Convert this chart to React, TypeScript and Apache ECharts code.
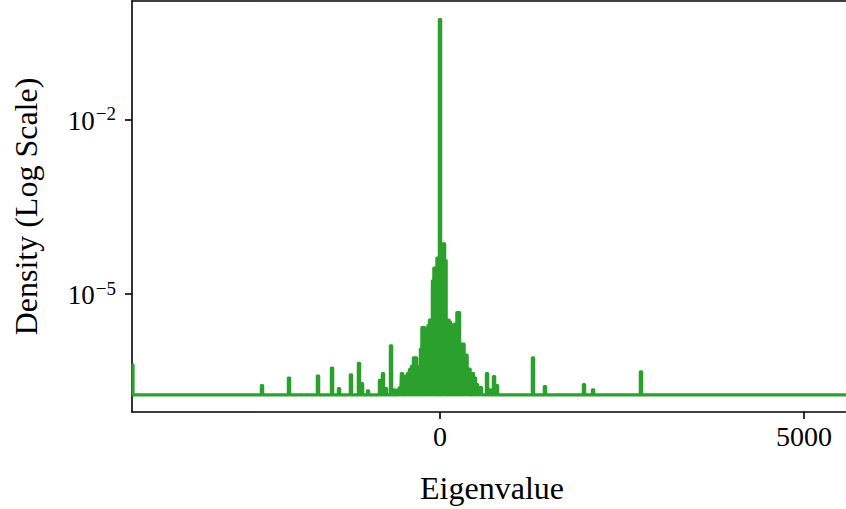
import React, { useEffect, useRef } from "react";
import * as echarts from "echarts";

// x range of the visible plot
const xMin = -4231;
const xMax = 5577;
// y range (log scale), in densities
const yMin = Math.pow(10, -7.04);
const yMax = Math.pow(10, 0.04);

const xTickValues = [0, 5000];
const yTickValues = [1e-5, 1e-2];

// baseline density of the curve
const baseline = 1.8e-7;
const xStart = -4217;
const startValue = 5.9e-7;
const xEnd = 6000;

// spike positions (eigenvalue) and densities
const spikeX = [
  -2445, -2074, -1676, -1483, -1387, -1223, -1113, -1071, -989, -824, -783, -742, -673, -632, -577,
  -549, -522, -494, -467, -440, -412, -385, -357, -330, -302, -282, -261, -240, -220, -199, -179,
  -158, -137, -117, -96, -76, -55, -34, 0, 34, 55, 76, 96, 117, 137, 158, 179, 199, 220, 240, 261,
  282, 302, 323, 343, 364, 385, 405, 426, 453, 481, 508, 536, 563, 646, 687, 742, 783, 1277, 1442,
  1978, 2102, 2761,
];
const spikeY = [
  2.6e-7, 3.5e-7, 3.8e-7, 5.2e-7, 2.3e-7, 4.0e-7, 6.3e-7, 2.8e-7, 2.1e-7, 3.2e-7, 4.2e-7, 2.3e-7,
  1.26e-6, 2.2e-7, 2.2e-7,
  2.4e-7, 4.2e-7, 2.8e-7, 3.8e-7, 4.2e-7, 4.9e-7, 5.6e-7, 7.8e-7, 7.8e-7, 4.9e-7, 5.6e-7, 1.1e-6,
  2.6e-6, 2.6e-6, 2.1e-6, 2.1e-6, 2.8e-6, 3.5e-6, 3.5e-6, 1.66e-5, 2.75e-5, 2.75e-5, 4.1e-5, 0.525,
  7.2e-5, 7.2e-5, 3.7e-5, 3.5e-6, 3.5e-6, 3.2e-6, 2.6e-6, 2.6e-6, 2.95e-6, 2.95e-6, 4.7e-6, 4.7e-6,
  8.7e-7, 1.35e-6, 1.35e-6, 8.7e-7, 8.7e-7, 5.0e-7, 5.0e-7, 4.2e-7, 4.2e-7, 3.5e-7, 2.7e-7, 2.4e-7,
  2.4e-7, 4.2e-7, 2.2e-7, 3.7e-7, 2.6e-7, 7.8e-7, 2.5e-7, 2.7e-7, 2.2e-7, 4.5e-7,
];

const SPIKE_HALF = 9;
const FONT = "Liberation Serif";
const GREEN = "#2ca02c";

function buildLine(): number[][] {
  const pts: number[][] = [];
  pts.push([xStart, startValue]);
  pts.push([xStart, baseline]);
  for (let i = 0; i < spikeX.length; i++) {
    const x = spikeX[i];
    const v = spikeY[i];
    pts.push([x - SPIKE_HALF, baseline]);
    pts.push([x - SPIKE_HALF, v]);
    pts.push([x + SPIKE_HALF, v]);
    pts.push([x + SPIKE_HALF, baseline]);
  }
  pts.push([xEnd, baseline]);
  return pts;
}

export default function App() {
  const ref = useRef<HTMLDivElement>(null);
  useEffect(() => {
    if (!ref.current) return;
    const chart = echarts.init(ref.current, null, { renderer: "svg" });
    const axisLine = { show: true, lineStyle: { color: "#000", width: 1.6 } };
    chart.setOption({
      animation: false,
      backgroundColor: "#fff",
      grid: { left: 132, right: 0, top: 1, bottom: 93.5 },
      xAxis: [
        {
          type: "value",
          min: xMin,
          max: xMax,
          position: "bottom",
          axisLine: { ...axisLine, onZero: false },
          splitLine: { show: false },
          axisTick: {
            show: true,
            length: 7,
            inside: false,
            customValues: xTickValues,
            lineStyle: { color: "#000", width: 1.6 },
          },
          axisLabel: {
            show: true,
            customValues: xTickValues,
            margin: 10,
            fontFamily: FONT,
            fontSize: 28,
            color: "#000",
            formatter: (v: number) => String(v),
          },
          name: "Eigenvalue",
          nameLocation: "middle",
          nameGap: 60,
          nameTextStyle: { fontFamily: FONT, fontSize: 32, color: "#000", padding: [0, 0, 0, 6] },
        },
        {
          type: "value",
          min: xMin,
          max: xMax,
          position: "top",
          axisLine: { ...axisLine, onZero: false },
          splitLine: { show: false },
          axisTick: { show: false },
          axisLabel: { show: false },
        },
      ],
      yAxis: {
        type: "log",
        logBase: 10,
        min: yMin,
        max: yMax,
        axisLine: { ...axisLine, onZero: false },
        splitLine: { show: false },
        minorTick: { show: false },
        axisTick: {
          show: true,
          length: 7,
          customValues: yTickValues,
          lineStyle: { color: "#000", width: 1.6 },
        },
        axisLabel: {
          show: true,
          customValues: yTickValues,
          margin: 16,
          formatter: (v: number) => {
            const e = Math.round(Math.log10(v));
            return "{b|10}{s|\u2212" + Math.abs(e) + "}";
          },
          rich: {
            b: { fontFamily: FONT, fontSize: 27, color: "#000", lineHeight: 30, verticalAlign: "bottom" },
            s: {
              fontFamily: FONT,
              fontSize: 19,
              color: "#000",
              lineHeight: 20,
              verticalAlign: "top",
              padding: [0, 0, 16, 1],
            },
          },
        },
        name: "Density (Log Scale)",
        nameLocation: "middle",
        nameGap: 90,
        nameTextStyle: { fontFamily: FONT, fontSize: 32, color: "#000" },
      },
      series: [
        {
          type: "line",
          data: buildLine(),
          symbol: "none",
          showSymbol: false,
          lineStyle: { color: GREEN, width: 3.2, join: "round", cap: "round" },
          silent: true,
          clip: true,
        },
      ],
    });
    return () => chart.dispose();
  }, []);
  return (
    <div
      ref={ref}
      style={{ position: "absolute", left: 0, top: 0, width: 846, height: 509 }}
    />
  );
}
